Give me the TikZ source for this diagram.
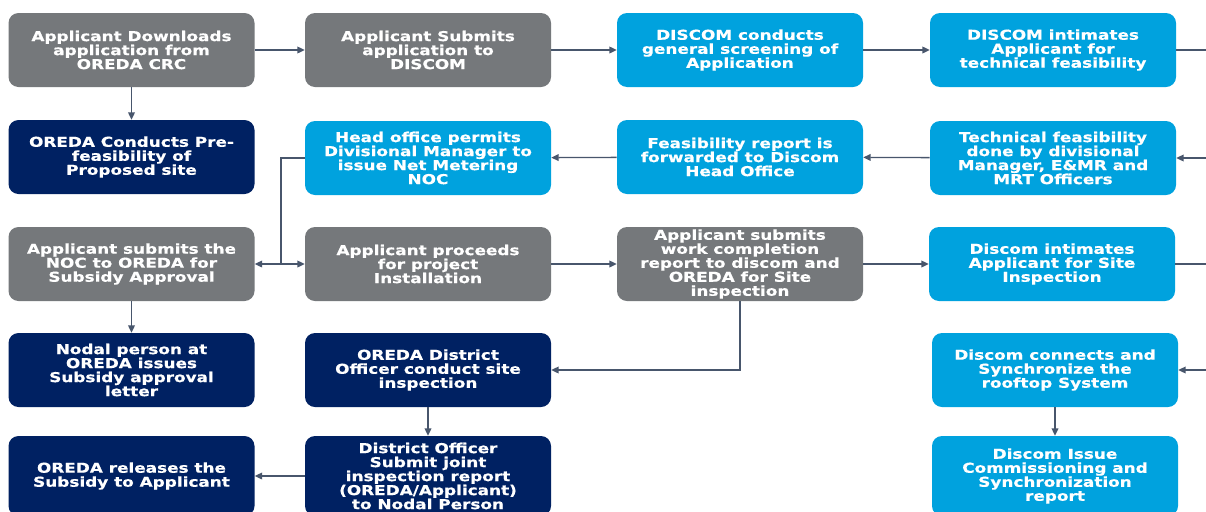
\documentclass[tikz,border=0pt]{standalone}
\usepackage{fontspec}
\usetikzlibrary{arrows.meta}
\newfontfamily\boxfont{DejaVu Sans Bold}[FakeStretch=1.24,FakeBold=0.6]
\definecolor{oregray}{RGB}{117,120,123}
\definecolor{orenavy}{RGB}{0,33,98}
\definecolor{orecyan}{RGB}{0,162,222}
\definecolor{linkcol}{RGB}{72,86,108}

\begin{document}
\begin{tikzpicture}[x=0.75pt,y=-0.75pt,
    box/.style={rounded corners=7.5pt,minimum width=184.5pt,minimum height=55.5pt,
      inner sep=0pt,text=white,align=center,font=\boxfont\fontsize{10.2}{10.5}\selectfont},
    greybox/.style={box,fill=oregray},
    navybox/.style={box,fill=orenavy},
    cyanbox/.style={box,fill=orecyan},
    flow/.style={draw=linkcol,line width=1pt,-{Triangle[length=5.5pt,width=5pt]}},
    link/.style={draw=linkcol,line width=1pt}]
        \useasboundingbox (0,0) rectangle (1206,511);
        \fill[white] (0,0) rectangle (1206,511);

        % Row 1
        \node[greybox] (dl) at (131.5,50) {Applicant Downloads\\application from\\OREDA CRC};
        \node[greybox] (submit) at (428,50) {Applicant Submits\\application to\\DISCOM};
        \node[cyanbox] (screen) at (740,50) {DISCOM conducts\\general screening of\\Application};
        \node[cyanbox] (intimate) at (1053,50) {DISCOM intimates\\Applicant for\\technical feasibility};

        % Row 2
        \node[navybox] (prefeas) at (131.5,157) {OREDA Conducts Pre-\\feasibility of\\Proposed site};
        \node[cyanbox] (head) at (428,158) {Head office permits\\Divisional Manager to\\issue Net Metering\\NOC};
        \node[cyanbox] (fwd) at (740,157) {Feasibility report is\\forwarded to Discom\\Head Office};
        \node[cyanbox] (tech) at (1053,158) {Technical feasibility\\done by divisional\\Manager, E\&MR and\\MRT Officers};

        % Row 3
        \node[greybox] (noc) at (131.5,264) {Applicant submits the\\NOC to OREDA for\\Subsidy Approval};
        \node[greybox] (install) at (428,264) {Applicant proceeds\\for project\\Installation};
        \node[greybox] (work) at (740,264) {Applicant submits\\work completion\\report to discom and\\OREDA for Site\\inspection};
        \node[cyanbox] (siteint) at (1052,264) {Discom intimates\\Applicant for Site\\Inspection};

        % Row 4
        \node[navybox] (nodal) at (131.5,370) {Nodal person at\\OREDA issues\\Subsidy approval\\letter};
        \node[navybox] (dist) at (428,370) {OREDA District\\Officer conduct site\\inspection};
        \node[cyanbox] (connect) at (1055,370) {Discom connects and\\Synchronize the\\rooftop System};

        % Row 5 (cut at the bottom edge)
        \node[navybox,minimum height=60pt] (release) at (131.5,476) {OREDA releases the\\Subsidy to Applicant};
        \node[navybox,minimum height=60pt] (joint) at (428,476) {District Officer\\Submit joint\\inspection report\\(OREDA/Applicant)\\to Nodal Person};
        \node[cyanbox,minimum height=60pt] (commission) at (1055,476) {Discom Issue\\Commissioning and\\Synchronization\\report};

        % ends that leave the picture on the right
        \coordinate (out1) at (1206,50);
        \coordinate (in2) at (1206,158);
        \coordinate (out3) at (1206,264);
        \coordinate (in4) at (1206,370);
        \coordinate (split) at (281,264);

        \draw[flow] (dl) -- (submit);
        \draw[flow] (submit) -- (screen);
        \draw[flow] (screen) -- (intimate);
        \draw[link] (intimate) -- (out1);
        \draw[flow] (dl) -- (prefeas);

        \draw[flow] (in2) -- (tech);
        \draw[flow] (tech) -- (fwd);
        \draw[flow] (fwd) -- (head);
        \draw[link] (head.west) -| (split);
        \draw[flow] (split) -- (noc);
        \draw[flow] (split) -- (install);

        \draw[flow] (install) -- (work);
        \draw[flow] (work) -- (siteint);
        \draw[link] (siteint) -- (out3);
        \draw[flow] (noc) -- (nodal);
        \draw[flow] (work.south) |- (dist.east);

        \draw[flow] (in4) -- (connect);
        \draw[flow] (connect) -- (commission.north);
        \draw[flow] (dist) -- (joint.north);
        \draw[flow] (joint.west) -- (release.east);
\end{tikzpicture}
\end{document}
